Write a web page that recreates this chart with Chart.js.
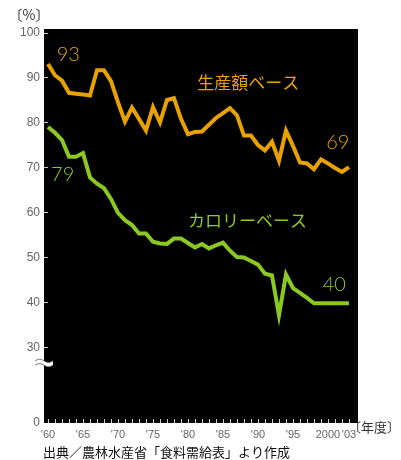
<!DOCTYPE html>
<html>
<head>
<meta charset="utf-8">
<script src="https://cdn.jsdelivr.net/npm/chart.js@4"></script>
<style>
  body { margin: 0; background: #fff; }
  canvas { display: block; }
</style>
</head>
<body>
<canvas id="myChart" width="401" height="460"></canvas>
<script>
const years = [1960, 1961, 1962, 1963, 1964, 1965, 1966, 1967, 1968, 1969,
               1970, 1971, 1972, 1973, 1974, 1975, 1976, 1977, 1978, 1979,
               1980, 1981, 1982, 1983, 1984, 1985, 1986, 1987, 1988, 1989,
               1990, 1991, 1992, 1993, 1994, 1995, 1996, 1997, 1998, 1999,
               2000, 2001, 2002, 2003];

// 生産額ベース
const productionValue = [93, 90.5, 89.3, 86.6, 86.4, 86.2, 86.0, 91.6, 91.6, 89.2,
                         84.5, 80.2, 83.3, 80.8, 78.2, 83.4, 80.0, 85.0, 85.4, 80.8,
                         77.4, 77.9, 78.0, 79.5, 81.0, 82.1, 83.2, 81.6, 77.1, 77.1,
                         75.0, 73.8, 75.7, 71.5, 78.2, 74.8, 71.1, 70.9, 69.6, 71.8,
                         70.9, 69.9, 69.0, 70.1];

// カロリーベース
const calorie = [79, 77.7, 76.1, 72.4, 72.4, 73.2, 67.8, 66.4, 65.4, 63.0,
                 59.9, 58.3, 57.2, 55.3, 55.3, 53.5, 53.1, 53.0, 54.2, 54.2,
                 53.2, 52.2, 53.0, 52.0, 52.7, 53.3, 51.5, 50.1, 50.0, 49.2,
                 48.4, 46.4, 46.0, 37.2, 46.2, 43.2, 42.1, 41.0, 39.8, 39.8,
                 39.8, 39.8, 39.8, 39.8];

const xTickYears = [1960, 1965, 1970, 1975, 1980, 1985, 1990, 1995, 2000, 2003];
const xTickLabels = ["'60", "'65", "'70", "'75", "'80", "'85", "'90", "'95", "2000", "'03"];
const yTicks = [0, 30, 40, 50, 60, 70, 80, 90, 100];

// the axis is broken between 0 and 30: 0 is drawn at this value
const zeroAt = 13.2;

const orange = '#E8A200';
const green = '#8CC822';

function points(vals) {
    return years.map((y, i) => ({ x: y, y: vals[i] }));
}

const deco = {
    id: 'deco',
    beforeDraw(chart) {
        const { ctx, chartArea: a } = chart;
        ctx.save();
        ctx.fillStyle = '#000';
        ctx.fillRect(a.left, a.top, a.right - a.left, a.bottom - a.top);
        ctx.restore();
    },
    beforeDatasetsDraw(chart) {
        const { ctx, chartArea: a, scales } = chart;
        ctx.save();
        ctx.strokeStyle = '#ccc';
        ctx.lineWidth = 1;
        ctx.beginPath();
        years.forEach(yr => {
            const px = Math.round(scales.x.getPixelForValue(yr)) + 0.5;
            ctx.moveTo(px, a.bottom);
            ctx.lineTo(px, a.bottom - 4);
        });
        yTicks.forEach(v => {
            if (v === 0) return;
            const py = Math.round(scales.y.getPixelForValue(v)) + 0.5;
            ctx.moveTo(a.left, py);
            ctx.lineTo(a.left + 4, py);
        });
        ctx.stroke();
        ctx.restore();
    },
    afterDraw(chart) {
        const { ctx, chartArea: a, scales } = chart;
        const sx = v => scales.x.getPixelForValue(v);
        const sy = v => scales.y.getPixelForValue(v);
        ctx.save();

        // axis break mark
        const by = 363, x0 = a.left - 9, x1 = a.left + 9;
        const wave = (off) => {
            const pts = [];
            for (let x = x0; x <= x1; x += 0.5) {
                pts.push([x, by + off - 1.6 * Math.sin((x - x0) / (x1 - x0) * 2 * Math.PI)]);
            }
            return pts;
        };
        const w1 = wave(-2.2), w2 = wave(2.2);
        ctx.fillStyle = '#fff';
        ctx.beginPath();
        w1.forEach((p, i) => i ? ctx.lineTo(p[0], p[1]) : ctx.moveTo(p[0], p[1]));
        w2.slice().reverse().forEach(p => ctx.lineTo(p[0], p[1]));
        ctx.closePath();
        ctx.fill();
        ctx.strokeStyle = '#444';
        ctx.lineWidth = 0.8;
        [w1, w2].forEach(w => {
            ctx.beginPath();
            w.forEach((p, i) => i ? ctx.lineTo(p[0], p[1]) : ctx.moveTo(p[0], p[1]));
            ctx.stroke();
        });

        // value labels
        ctx.textAlign = 'center';
        ctx.textBaseline = 'middle';
        ctx.font = '300 20px Lato, "Liberation Sans", sans-serif';
        ctx.fillStyle = orange;
        ctx.fillText('93', sx(1962.9), sy(95.0));
        ctx.fillText('69', sx(2001.4), sy(75.6));
        ctx.fillStyle = green;
        ctx.fillText('79', sx(1962.1), sy(68.5));
        ctx.fillText('40', sx(2000.9), sy(44.0));

        // series names
        ctx.font = '17px "Noto Sans CJK JP", sans-serif';
        ctx.fillStyle = orange;
        ctx.fillText('生産額ベース', sx(1988.6), sy(88.8));
        ctx.fillStyle = green;
        ctx.fillText('カロリーベース', sx(1988.5), sy(58.2));

        // unit labels and source
        ctx.font = '14px "Noto Sans CJK JP", sans-serif';
        ctx.fillStyle = '#333';
        ctx.fillText('〔%〕', 29, 15);
        ctx.font = '13px "Noto Sans CJK JP", sans-serif';
        ctx.textAlign = 'right';
        ctx.fillText('〔年度〕', 400, 427);
        ctx.textAlign = 'left';
        ctx.fillStyle = '#111';
        ctx.fillText('出典／農林水産省「食料需給表」より作成', 43, 452);
        ctx.restore();
    }
};

const ctx = document.getElementById('myChart');

let config = {
    type: 'line',
    data: {
        datasets: [{
            label: '生産額ベース',
            data: points(productionValue),
            borderColor: orange,
            borderWidth: 4,
            borderJoinStyle: 'miter',
            pointRadius: 0,
            tension: 0
        }, {
            label: 'カロリーベース',
            data: points(calorie),
            borderColor: green,
            borderWidth: 4,
            borderJoinStyle: 'miter',
            pointRadius: 0,
            tension: 0
        }]
    },
    options: {
        responsive: false,
        animation: false,
        devicePixelRatio: 1,
        layout: { padding: { top: 29, right: 43, left: 0, bottom: 0 } },
        plugins: { legend: { display: false }, tooltip: { enabled: false } },
        scales: {
            x: {
                type: 'linear',
                min: 1959.43,
                max: 2004.29,
                grid: { display: false, drawTicks: false },
                border: { display: false },
                afterBuildTicks: s => { s.ticks = xTickYears.map(v => ({ value: v })); },
                afterFit: s => { s.height = 37; },
                ticks: {
                    autoSkip: false,
                    maxRotation: 0,
                    padding: 5,
                    color: '#666',
                    font: { family: '"Liberation Sans", sans-serif', size: 11 },
                    callback: (v, i) => xTickLabels[i]
                }
            },
            y: {
                min: zeroAt,
                max: 100.78,
                grid: { display: false, drawTicks: false },
                border: { display: false },
                afterBuildTicks: s => { s.ticks = yTicks.map(v => ({ value: v === 0 ? zeroAt : v })); },
                afterFit: s => { s.width = 44; },
                ticks: {
                    padding: 4,
                    color: '#666',
                    font: { family: '"Liberation Sans", sans-serif', size: 12 },
                    callback: (v, i) => String(yTicks[i])
                }
            }
        }
    },
    plugins: [deco]
};

let newChart = new Chart(ctx, config);
</script>
</body>
</html>
